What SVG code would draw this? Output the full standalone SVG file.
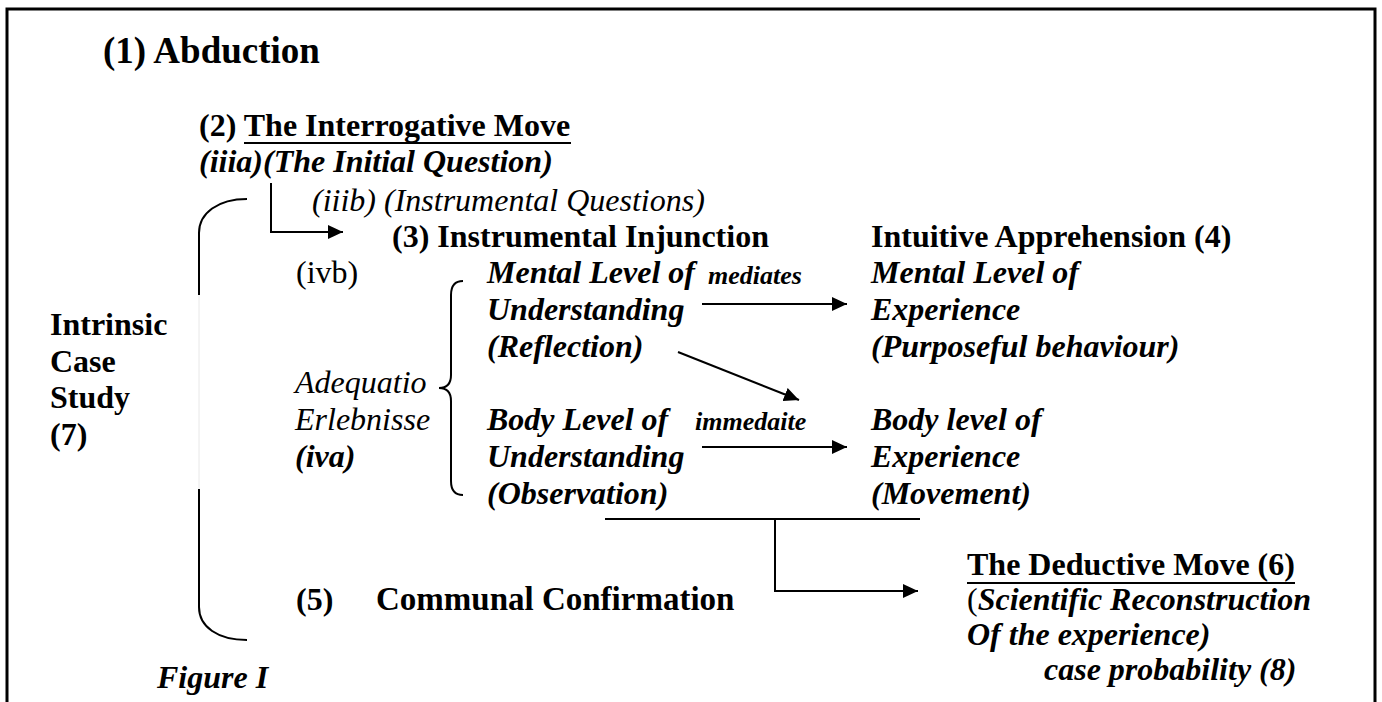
<svg xmlns="http://www.w3.org/2000/svg" width="1382" height="702" viewBox="0 0 1382 702" font-family="Liberation Serif, Times New Roman, DejaVu Serif, serif">
<style>
text{font-family:'Liberation Serif','Times New Roman','DejaVu Serif',serif;font-size:32px;fill:#000}
.b{font-weight:bold}
.i{font-style:italic}
.s{font-size:26px}
.big{font-size:37px}
.m{font-size:33px}
.ln{fill:none;stroke:#000;stroke-width:2}
.ul{stroke:#000;stroke-width:2.2}
</style>
<defs>
<marker id="ah" markerUnits="userSpaceOnUse" markerWidth="16" markerHeight="14" refX="15" refY="7" orient="auto">
<path d="M0,0 L15,7 L0,14 Z" fill="#000"/>
</marker>
</defs>
<rect width="1382" height="702" fill="#fff"/>
<path d="M7,702 V9 H1375 V702" fill="none" stroke="#000" stroke-width="3"/>

<g id="connectors">
<path class="ln" d="M271,183 V232 H343" marker-end="url(#ah)"/>
<path class="ln" d="M702,304 H847" marker-end="url(#ah)"/>
<path class="ln" d="M678,352 L799,400" marker-end="url(#ah)"/>
<path class="ln" d="M702,447 H847" marker-end="url(#ah)"/>
<path class="ln" d="M605,519 H920 M775,519 V591 H918" marker-end="url(#ah)"/>
<path class="ln" d="M247,199 C218,199 199,213 199,233 V295"/>
<path d="M199,295 V489" fill="none" stroke="#e8e8e8" stroke-width="1"/>
<path class="ln" d="M199,489 V607 C199,627 218,640 247,640"/>
<path class="ln" d="M463,281 C455,281 451,285 451,295 L451,375 C451,383 447,388 439,388 C447,388 451,393 451,401 L451,481 C451,491 455,495 463,495"/>
</g>

<g id="edge-labels">
<text class="b i s" x="708" y="284">mediates</text>
<text class="b i s" x="695" y="430">immedaite</text>
</g>

<g id="abduction"><text class="b big" x="103" y="63">(1) Abduction</text></g>

<g id="interrogative">
<text class="b" x="199" y="136">(2) The Interrogative Move</text>
<line class="ul" x1="244" y1="143" x2="571" y2="143"/>
</g>

<g id="initial-question"><text class="b i" x="199" y="172">(iiia)(The Initial Question)</text></g>

<g id="instrumental-questions"><text class="i" x="312" y="211">(iiib) (Instrumental Questions)</text></g>

<g id="instrumental-injunction"><text class="b" x="392" y="247">(3) Instrumental Injunction</text></g>

<g id="intuitive-apprehension"><text class="b" x="871" y="247">Intuitive Apprehension (4)</text></g>

<g id="ivb"><text x="296" y="283">(ivb)</text></g>

<g id="adequatio">
<text class="i" x="295" y="393">Adequatio</text>
<text class="i" x="295" y="430">Erlebnisse</text>
<text class="b i" x="295" y="467">(iva)</text>
</g>

<g id="mental-understanding">
<text class="b i" x="487" y="283">Mental Level of</text>
<text class="b i" x="487" y="320">Understanding</text>
<text class="b i" x="487" y="357">(Reflection)</text>
</g>

<g id="body-understanding">
<text class="b i" x="487" y="430">Body Level of</text>
<text class="b i" x="487" y="467">Understanding</text>
<text class="b i" x="487" y="504">(Observation)</text>
</g>

<g id="mental-experience">
<text class="b i" x="871" y="283">Mental Level of</text>
<text class="b i" x="871" y="320">Experience</text>
<text class="b i" x="871" y="357">(Purposeful behaviour)</text>
</g>

<g id="body-experience">
<text class="b i" x="871" y="430">Body level of</text>
<text class="b i" x="871" y="467">Experience</text>
<text class="b i" x="871" y="504">(Movement)</text>
</g>

<g id="intrinsic-case-study">
<text class="b" x="50" y="335">Intrinsic</text>
<text class="b" x="50" y="372">Case</text>
<text class="b" x="50" y="408">Study</text>
<text class="b" x="50" y="445">(7)</text>
</g>

<g id="communal-confirmation">
<text class="b" x="296" y="610">(5)</text>
<text class="b m" x="376" y="610">Communal Confirmation</text>
</g>

<g id="deductive-move">
<text class="b" x="967" y="575">The Deductive Move (6)</text>
<line class="ul" x1="967" y1="583" x2="1295" y2="583"/>
<text class="b i" x="967" y="610"><tspan style="font-style:normal;font-weight:normal">(</tspan>Scientific Reconstruction</text>
<text class="b i" x="967" y="645">Of the experience)</text>
<text class="b i" x="1044" y="680">case probability (8)</text>
</g>

<g id="figure-caption"><text class="b i" x="157" y="688">Figure I</text></g>
</svg>
